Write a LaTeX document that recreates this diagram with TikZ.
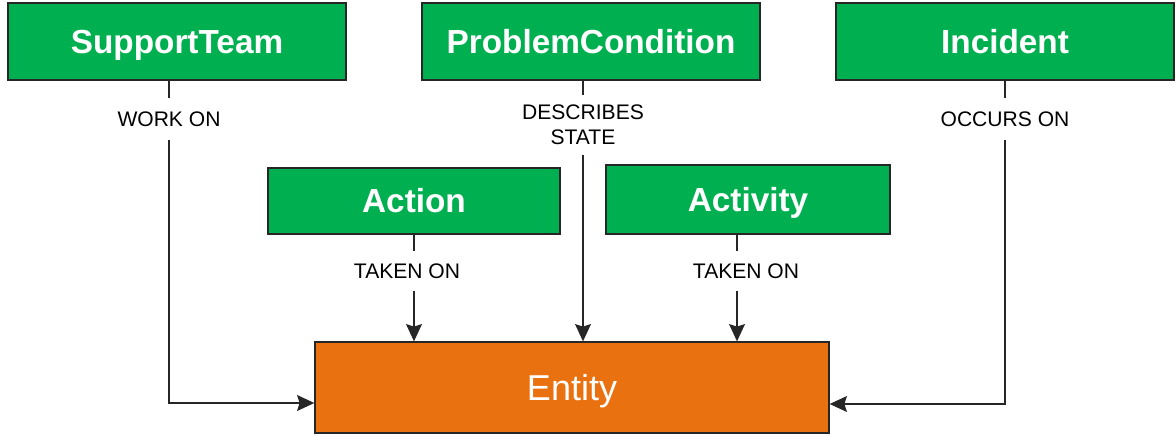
\documentclass[tikz,border=0pt]{standalone}
\usepackage{fontspec}
\setmainfont{Liberation Sans}
\usetikzlibrary{arrows.meta}
\definecolor{boxgreen}{HTML}{00B050}
\definecolor{boxorange}{HTML}{E9710F}
\tikzset{
  ent/.style={draw=black!85, line width=1pt, fill=boxgreen, text=white, font=\fontsize{25}{30}\selectfont\bfseries, inner sep=0pt, text height=17.9pt, text depth=0pt},
  main/.style={draw=black!85, line width=1pt, fill=boxorange, text=white, font=\fontsize{27}{32}\selectfont, inner sep=0pt, text height=19.3pt, text depth=0pt},
  lbl/.style={font=\fontsize{15.8}{19}\selectfont, align=center, inner xsep=2pt, inner ysep=10pt},
  conn/.style={draw=black!85, line width=1pt},
  arr/.style={conn, -{Stealth[length=13pt,width=12pt,inset=2pt]}},
}
\begin{document}
\begin{tikzpicture}[x=0.75pt,y=-0.75pt]
\useasboundingbox (0,0) rectangle (1176,436);
\node[ent, minimum width=253.5pt, minimum height=57.75pt] (st) at (177,41.5) {SupportTeam};
\node[ent, minimum width=253.5pt, minimum height=57.75pt] (pc) at (591,41.5) {ProblemCondition};
\node[ent, minimum width=253.5pt, minimum height=57.75pt] (inc) at (1005,41.5) {Incident};
\node[ent, minimum width=219pt, minimum height=49.5pt] (act) at (414,201) {Action};
\node[ent, minimum width=213pt, minimum height=51.75pt] (acty) at (748,199.5) {Activity};
\node[main, minimum width=385.5pt, minimum height=68.25pt] (en) at (572,387.5) {Entity};

\node[lbl] (l1) at (169,119) {WORK ON};
\node[lbl, inner ysep=7pt] (l2) at (583,125) {DESCRIBES\\STATE};
\node[lbl] (l3) at (1005,119) {OCCURS ON};
\node[lbl, inner ysep=9pt] (l4) at (407,271) {TAKEN ON};
\node[lbl, inner ysep=9pt] (l5) at (746,271) {TAKEN ON};

\coordinate (stx) at (169,0);
\coordinate (pcx) at (583,0);
\coordinate (actx) at (414,0);
\coordinate (actyx) at (737,0);
\coordinate (hy1) at (0,403);
\coordinate (hy2) at (0,404);

\draw[conn] (st.south -| stx) -- (l1.north -| stx);
\draw[arr] (l1.south -| stx) -- (hy1 -| stx) -- (hy1 -| en.west);
\draw[conn] (pc.south -| pcx) -- (l2.north -| pcx);
\draw[arr] (l2.south -| pcx) -- (en.north -| pcx);
\draw[conn] (inc.south) -- (l3.north);
\draw[arr] (l3.south) -- (hy2 -| l3.south) -- (hy2 -| en.east);
\draw[conn] (act.south -| actx) -- (l4.north -| actx);
\draw[arr] (l4.south -| actx) -- (en.north -| actx);
\draw[conn] (acty.south -| actyx) -- (l5.north -| actyx);
\draw[arr] (l5.south -| actyx) -- (en.north -| actyx);
\end{tikzpicture}
\end{document}
